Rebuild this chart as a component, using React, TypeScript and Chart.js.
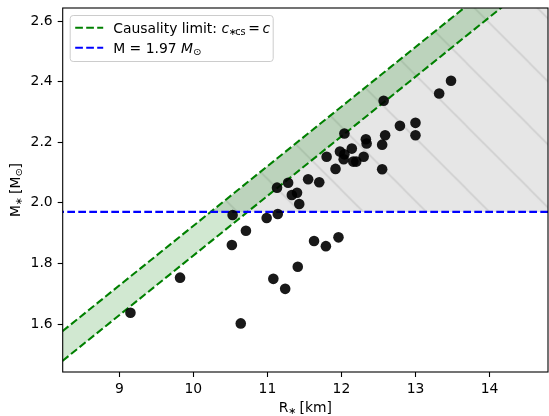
import React, { useEffect, useRef } from 'react';
import { Chart, registerables } from 'chart.js';

Chart.register(...registerables);

// ---------- data ----------
const radiusKm = [13.48, 13.32, 12.57, 13.0, 12.79, 13.0, 12.59, 12.04, 12.33, 12.34, 12.55, 12.14, 11.98, 12.04, 11.8, 12.3, 12.03, 12.16, 12.2, 11.92, 12.55, 11.55, 11.7, 11.13, 11.28, 11.33, 11.4, 11.43, 11.14, 10.99, 10.53, 10.71, 10.52, 11.63, 11.79, 11.96, 11.41, 11.08, 11.24, 9.82, 9.15, 10.64];
const massSolar = [2.403, 2.361, 2.337, 2.264, 2.254, 2.223, 2.223, 2.229, 2.21, 2.196, 2.192, 2.179, 2.169, 2.16, 2.152, 2.152, 2.144, 2.136, 2.136, 2.112, 2.111, 2.078, 2.068, 2.05, 2.066, 2.026, 2.033, 1.996, 1.963, 1.95, 1.96, 1.908, 1.861, 1.874, 1.857, 1.886, 1.789, 1.749, 1.716, 1.753, 1.637, 1.602];

const causalityR = [8, 15];
const causalityUpperM = [1.5306, 2.9075];
const causalityLowerM = [1.4326, 2.8095];

const observedMass = 1.97;
const lineR = [8, 15];

const excludedR = [10.24, 15];
const excludedM = [1.97, 2.9075];

const xTicks = [9, 10, 11, 12, 13, 14];
const yTicks = [1.6, 1.8, 2.0, 2.2, 2.4, 2.6];
const xRange = [8.235, 14.79];
const yRange = [1.4416, 2.643];

type Run = { t: string; it?: boolean; sub?: boolean; gap?: number };
const xTitle: Run[] = [{ t: 'R' }, { t: '∗', sub: true, gap: -0.5 }, { t: ' [km]', gap: -1 }];
const yTitle: Run[] = [{ t: 'M' }, { t: '∗', sub: true, gap: -0.5 }, { t: ' [M', gap: -1 }, { t: '⊙', sub: true }, { t: ']' }];
const legendCausality: Run[] = [
  { t: 'Causality limit: ' },
  { t: 'c', it: true },
  { t: '∗', sub: true, gap: -0.5 },
  { t: 'cs', sub: true, gap: -1.5 },
  { t: '=', gap: 2.6 },
  { t: 'c', it: true, gap: 2.6 },
];
const legendMass: Run[] = [{ t: 'M = 1.97 ' }, { t: 'M', it: true }, { t: '⊙', sub: true }];

// ---------- helpers ----------
const FAMILY = '"DejaVu Sans", sans-serif';
const FS = 13.9;
const DASH = [7.7, 3.3];

function setFont(ctx: CanvasRenderingContext2D, r: Run) {
  const size = r.sub ? FS * 0.7 : FS;
  ctx.font = `${r.it ? 'italic ' : ''}${size}px ${FAMILY}`;
}
function runsWidth(ctx: CanvasRenderingContext2D, runs: Run[]) {
  let w = 0;
  for (const r of runs) {
    setFont(ctx, r);
    w += (r.gap || 0) + ctx.measureText(r.t).width;
  }
  return w;
}
function drawRuns(ctx: CanvasRenderingContext2D, runs: Run[], x: number, y: number) {
  let cx = x;
  ctx.textBaseline = 'alphabetic';
  ctx.textAlign = 'left';
  for (const r of runs) {
    cx += r.gap || 0;
    setFont(ctx, r);
    ctx.fillText(r.t, cx, y + (r.sub ? 2.6 : 0));
    cx += ctx.measureText(r.t).width;
  }
}

const framePlugin = {
  id: 'frame',
  afterDatasetsDraw(chart: any) {
    const { ctx, chartArea: a } = chart;
    ctx.save();
    ctx.strokeStyle = '#000';
    ctx.lineWidth = 1.1;
    ctx.strokeRect(a.left, a.top, a.right - a.left, a.bottom - a.top);
    ctx.restore();
  },
};

const annotationsPlugin = {
  id: 'richText',
  afterDraw(chart: any) {
    const { ctx, chartArea: a } = chart;
    ctx.save();
    ctx.fillStyle = '#000';
    // x title
    const xw = runsWidth(ctx, xTitle);
    drawRuns(ctx, xTitle, (a.left + a.right) / 2 - xw / 2, 411.5);
    // y title
    const yw = runsWidth(ctx, yTitle);
    ctx.save();
    ctx.translate(19.5, (a.top + a.bottom) / 2);
    ctx.rotate(-Math.PI / 2);
    drawRuns(ctx, yTitle, -yw / 2, 0);
    ctx.restore();

    // legend
    const lx = a.left + 7.5;
    const ly = a.top + 7.5;
    const lw = 203;
    const lh = 46;
    ctx.beginPath();
    if ((ctx as any).roundRect) (ctx as any).roundRect(lx, ly, lw, lh, 3);
    else ctx.rect(lx, ly, lw, lh);
    ctx.fillStyle = 'rgba(255,255,255,0.8)';
    ctx.fill();
    ctx.strokeStyle = '#cccccc';
    ctx.lineWidth = 1;
    ctx.stroke();

    const rows = [
      { color: 'green', runs: legendCausality, y: ly + 12.2 },
      { color: 'blue', runs: legendMass, y: ly + 32.2 },
    ];
    for (const row of rows) {
      ctx.beginPath();
      ctx.setLineDash(DASH);
      ctx.strokeStyle = row.color;
      ctx.lineWidth = 2.08;
      ctx.moveTo(lx + 5, row.y);
      ctx.lineTo(lx + 33, row.y);
      ctx.stroke();
      ctx.setLineDash([]);
      ctx.fillStyle = '#000';
      drawRuns(ctx, row.runs, lx + 43, row.y + 5);
    }
    ctx.restore();
  },
};

function makeHatch(): CanvasPattern | string {
  const s = 63;
  const c = document.createElement('canvas');
  c.width = s;
  c.height = s;
  const g = c.getContext('2d');
  if (!g) return '#e6e6e6';
  g.fillStyle = '#e6e6e6';
  g.fillRect(0, 0, s, s);
  g.strokeStyle = '#d0d0d0';
  g.lineWidth = 1.6;
  for (const k of [-1, 0, 1]) {
    g.beginPath();
    g.moveTo(k * s - 3, -3);
    g.lineTo(k * s + s + 3, s + 3);
    g.stroke();
  }
  const p = g.createPattern(c, 'repeat');
  if (!p) return '#e6e6e6';
  try {
    p.setTransform(new DOMMatrix().translateSelf(25.5, 0));
  } catch (e) {}
  return p;
}

function zeroPadding(s: any) {
  s.paddingTop = 0;
  s.paddingBottom = 0;
  s.paddingLeft = 0;
  s.paddingRight = 0;
}

export default function App() {
  const ref = useRef<HTMLCanvasElement | null>(null);

  useEffect(() => {
    document.body.style.margin = '0';
    const canvas = ref.current;
    if (!canvas) return;
    const hatch = makeHatch();

    const points = radiusKm.map((r, i) => ({ x: r, y: massSolar[i] }));
    const upper = causalityR.map((r, i) => ({ x: r, y: causalityUpperM[i] }));
    const lower = causalityR.map((r, i) => ({ x: r, y: causalityLowerM[i] }));
    const massLine = lineR.map((r) => ({ x: r, y: observedMass }));
    const excluded = excludedR.map((r, i) => ({ x: r, y: excludedM[i] }));

    const tickFont = { family: FAMILY, size: FS };

    const chart = new Chart(canvas, {
      type: 'line',
      data: {
        datasets: [
          {
            label: 'stars',
            data: points,
            showLine: false,
            pointRadius: 5.3,
            pointBackgroundColor: 'rgba(0,0,0,0.9)',
            pointBorderWidth: 0,
            order: 0,
          },
          {
            label: 'M = 1.97',
            data: massLine,
            borderColor: 'blue',
            borderWidth: 2.08,
            borderDash: DASH,
            pointRadius: 0,
            fill: false,
            order: 1,
          },
          {
            label: 'Causality upper',
            data: upper,
            borderColor: 'green',
            borderWidth: 2.08,
            borderDash: DASH,
            pointRadius: 0,
            fill: false,
            order: 2,
          },
          {
            label: 'Causality lower',
            data: lower,
            borderColor: 'green',
            borderWidth: 2.08,
            borderDash: DASH,
            pointRadius: 0,
            fill: '-1',
            backgroundColor: 'rgba(0,128,0,0.18)',
            order: 3,
          },
          {
            label: 'excluded',
            data: excluded,
            borderWidth: 0,
            borderColor: 'rgba(0,0,0,0)',
            pointRadius: 0,
            fill: { value: observedMass },
            backgroundColor: hatch as any,
            order: 4,
          },
        ],
      },
      options: {
        responsive: false,
        animation: false,
        devicePixelRatio: 1,
        layout: { autoPadding: false, padding: { top: 8, right: 1, left: 0, bottom: 0 } },
        plugins: { legend: { display: false }, tooltip: { enabled: false } },
        scales: {
          x: {
            type: 'linear',
            min: xRange[0],
            max: xRange[1],
            afterBuildTicks: (s: any) => {
              s.ticks = xTicks.map((v) => ({ value: v }));
            },
            afterFit: (s: any) => {
              s.height = 44;
              zeroPadding(s);
            },
            grid: { drawOnChartArea: false, drawTicks: true, tickLength: 5, tickColor: '#000', tickWidth: 1.1 },
            border: { display: false },
            ticks: { color: '#000', padding: 4, font: tickFont, maxRotation: 0, callback: (v: any) => String(v) },
          },
          y: {
            type: 'linear',
            min: yRange[0],
            max: yRange[1],
            afterBuildTicks: (s: any) => {
              s.ticks = yTicks.map((v) => ({ value: v }));
            },
            afterFit: (s: any) => {
              s.width = 62.7;
              zeroPadding(s);
            },
            grid: { drawOnChartArea: false, drawTicks: true, tickLength: 5, tickColor: '#000', tickWidth: 1.1 },
            border: { display: false },
            ticks: { color: '#000', padding: 5, font: tickFont, callback: (v: any) => Number(v).toFixed(1) },
          },
        },
      },
      plugins: [framePlugin, annotationsPlugin],
    } as any);

    return () => chart.destroy();
  }, []);

  return (
    <div style={{ width: 549, height: 416, background: '#fff' }}>
      <canvas ref={ref} width={549} height={416} />
    </div>
  );
}
